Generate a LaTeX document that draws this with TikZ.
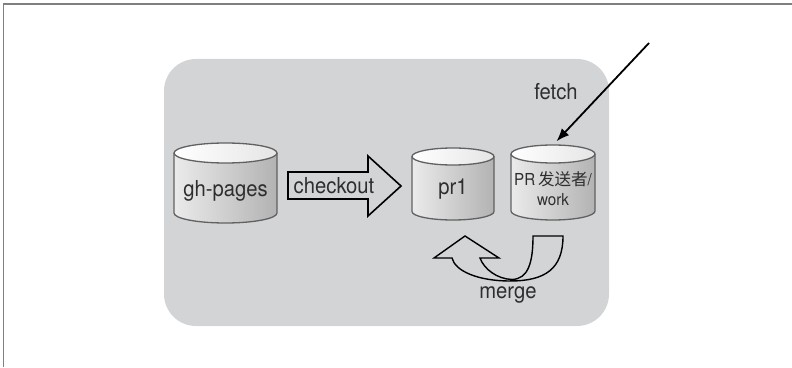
\documentclass[tikz,border=0pt]{standalone}
\usepackage{fontspec}
\setmainfont{TeX Gyre Heros}
\newfontfamily\narrowsans[FakeStretch=0.92]{TeX Gyre Heros}
\newfontfamily\cjk{Noto Sans CJK SC}
\usetikzlibrary{arrows.meta}
\begin{document}
\begin{tikzpicture}[x=1pt,y=1pt,
  lbl/.style={font=\narrowsans\fontsize{22}{24}\selectfont, text=black!82, inner sep=0pt},
  smalllbl/.style={font=\narrowsans\fontsize{16.5}{20}\selectfont, text=black!82, inner sep=0pt, align=center},
  cylline/.style={draw=black!62, line width=1.3pt},
  bigarrow/.style={draw=black, line width=1.6pt, line join=miter},
  thinarrow/.style={draw=black, line width=1.8pt, -{Latex[length=13pt,width=10pt]}}]
\useasboundingbox (0,0) rectangle (792,367);
% outer frame (top and left only)
\draw[black!50, line width=1.3pt] (3.5,0) -- (3.5,363) -- (792,363);
% grey panel
\fill[rounded corners=32pt, fill={rgb,255:red,211;green,212;blue,214}] (164,41) rectangle (609,308);
% cylinder macro: #1 name, #2 xl, #3 xr, #4 Y top-ellipse centre, #5 Y bottom-ellipse centre, #6 ry
\newcommand\mycyl[6]{%
  \pgfmathsetmacro\rx{(#3-#2)/2}%
  \pgfmathsetmacro\cx{(#3+#2)/2}%
  \shade[left color=black!8, middle color=white, right color=black!30]
    (#2,#4) -- (#2,#5) arc[start angle=180,end angle=360,x radius=\rx,y radius=#6] -- (#3,#4) -- cycle;
  \shade[left color=white, right color=black!10]
    (\cx,#4) ellipse[x radius=\rx, y radius=#6];
  \draw[cylline] (#2,#4) -- (#2,#5) arc[start angle=180,end angle=360,x radius=\rx,y radius=#6] -- (#3,#4);
  \draw[cylline] (\cx,#4) ellipse[x radius=\rx, y radius=#6];
  \coordinate (#1-top) at (\cx,#4+#6);
}
\mycyl{gh}{174}{277}{214}{154}{10}
\mycyl{pa}{412}{494}{210.5}{155.5}{8.5}
\mycyl{pb}{511}{595}{213}{156}{9}
\node[lbl, minimum width=103pt] (ghn) at (225.5,176) {gh-pages};
\node[lbl, minimum width=82pt] (pan) at (453,178) {pr1};
\node[smalllbl, minimum width=84pt] (pbn) at (553,178) {PR\,{\cjk 发送者}/\\work};
% checkout arrow
\coordinate (c1) at (288,168);
\coordinate (c2) at (368,168);
\coordinate (c3) at (368,151);
\coordinate (ctip) at (401,181);
\coordinate (c4) at (368,211);
\coordinate (c5) at (368,195);
\coordinate (c6) at (288,195);
\draw[bigarrow] (c1) -- (c2) -- (c3) -- (ctip) -- (c4) -- (c5) -- (c6) -- cycle;
\node[lbl] (checkout) at (334,181.5) {checkout};
% fetch arrow
\coordinate (fsrc) at (649,324);
\draw[thinarrow, shorten >=5pt] (fsrc) -- (pb-top);
\node[lbl] (fetch) at (556,275) {fetch};
% merge arrow
\coordinate (t1) at (533,131);
\coordinate (t2) at (563,131);
\coordinate (l1) at (452,109);
\coordinate (h1) at (434,109);
\coordinate (mtip) at (465,131);
\coordinate (h2) at (499,109);
\coordinate (l2) at (480,109);
\draw[draw=black, line width=1.4pt, line join=miter]
  (t1) -- (t2) .. controls (563,98) and (545,86) .. (510,86)
  .. controls (478,86) and (455,96) .. (l1) -- (h1) -- (mtip) -- (h2) -- (l2)
  .. controls (484,98) and (497,88) .. (512,87.5)
  .. controls (528,88) and (533,104) .. (t1) -- cycle;
\node[lbl] (merge) at (508,72) {merge};
\end{tikzpicture}
\end{document}
